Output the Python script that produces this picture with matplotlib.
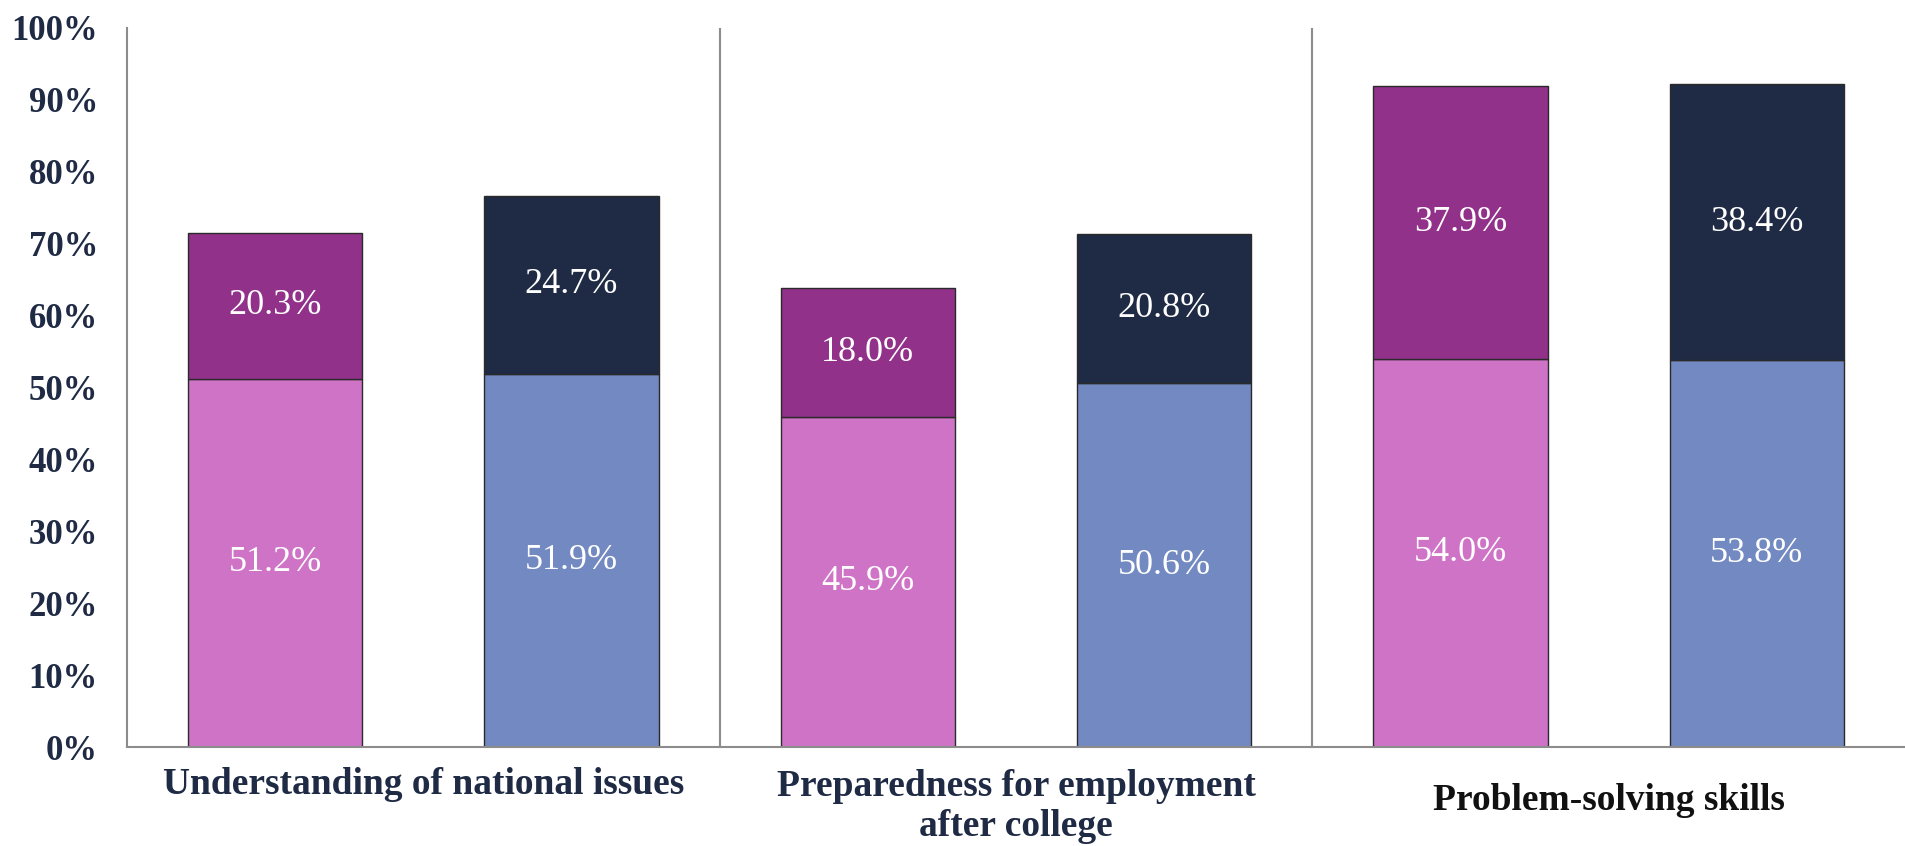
import numpy as np
import matplotlib.pyplot as plt

categories = ['Understanding of national issues',
              'Preparedness for employment\nafter college',
              'Problem-solving skills']

# left bar of each pair (pink base + purple top)
left_base = [51.2, 45.9, 54.0]
left_top = [20.3, 18.0, 37.9]
# right bar of each pair (blue base + navy top)
right_base = [51.9, 50.6, 53.8]
right_top = [24.7, 20.8, 38.4]

yticks = [0, 10, 20, 30, 40, 50, 60, 70, 80, 90, 100]

pink = '#CF73C7'
purple = '#91318A'
blue = '#7289C1'
navy = '#1F2A44'
text_col = '#1F2A44'
serif = ['Liberation Serif', 'DejaVu Serif']

fig = plt.figure(figsize=(19.05, 8.46), dpi=100)
ax = fig.add_axes([0.0667, 0.117, 0.9333, 0.850])

x = np.arange(len(categories))
w = 0.294
off = 0.25
ec = '#2a2a2a'

b1 = ax.bar(x - off, left_base, w, color=pink, edgecolor=ec, linewidth=1)
b2 = ax.bar(x - off, left_top, w, bottom=left_base, color=purple, edgecolor=ec, linewidth=1)
b3 = ax.bar(x + off, right_base, w, color=blue, edgecolor=ec, linewidth=1)
b4 = ax.bar(x + off, right_top, w, bottom=right_base, color=navy, edgecolor=ec, linewidth=1)

for bars in (b1, b2, b3, b4):
    ax.bar_label(bars, labels=['%.1f%%' % b.get_height() for b in bars],
                 label_type='center', color='white', fontsize=26,
                 family=serif)

ax.set_xlim(-0.5, 2.5)
ax.set_ylim(0, 100)
ax.set_yticks(yticks)
ax.set_yticklabels(['%d%%' % t for t in yticks], fontsize=25,
                   fontweight='bold', color=text_col, family=serif)
ax.tick_params(axis='y', length=0, pad=21)
ax.set_xticks([])

for s in ('top', 'right'):
    ax.spines[s].set_visible(False)
for s in ('left', 'bottom'):
    ax.spines[s].set_color('#8c8c8c')
    ax.spines[s].set_linewidth(1.5)
for xv in (0.5, 1.5):
    ax.axvline(xv, color='#8c8c8c', linewidth=1.5)

label_y = [-0.0515, -0.083, -0.0737]
label_col = [text_col, text_col, '#111111']
for i, cat in enumerate(categories):
    ax.text(i, label_y[i], cat, transform=ax.get_xaxis_transform(),
            ha='center', va='center',
            fontsize=27, fontweight='bold', color=label_col[i],
            family=serif, linespacing=1.2)

fig.savefig('out.png', dpi=100)
